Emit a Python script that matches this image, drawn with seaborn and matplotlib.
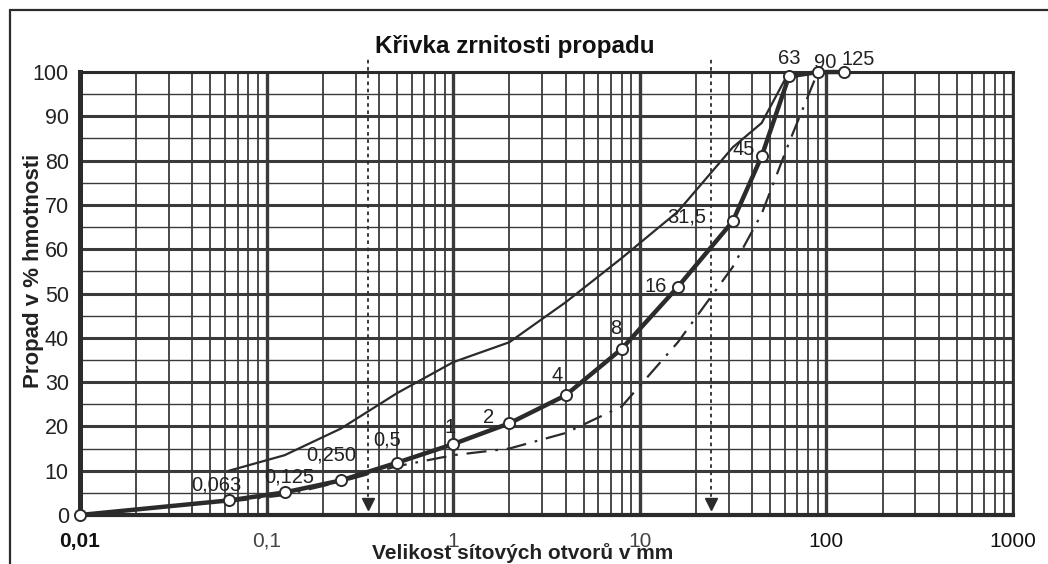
import matplotlib
matplotlib.use("Agg")
import matplotlib.pyplot as plt
import seaborn as sns
import pandas as pd
from matplotlib.ticker import FixedLocator, NullFormatter
from matplotlib.lines import Line2D

# ---- data ----
sieve_mm = [0.01, 0.063, 0.125, 0.25, 0.5, 1, 2, 4, 8, 16, 31.5, 45, 63, 90, 125]
passing = [0, 3.3, 5.1, 7.8, 11.8, 16, 20.7, 27, 37.5, 51.5, 66.3, 81, 99, 100, 100]
point_labels = ["", "0,063", "0,125", "0,250", "0,5", "1", "2", "4", "8", "16",
                "31,5", "45", "63", "90", "125"]
# label offsets in points (dx, dy)
label_dx = [0, -9, 3, -7, -7, -2, -15, -6, -4, -16, -33, -13, 0, 5, 10]
label_dy = [0, 11, 11, 18, 16, 12, 4, 14, 15, 0, 3, 5, 13, 7, 9]

upper_x = [0.063, 0.125, 0.25, 0.5, 1, 2, 4, 8, 16, 31.5, 45, 63]
upper_y = [10, 13.5, 19.5, 27.5, 34.5, 39, 48, 58, 68.5, 83, 88.5, 100]

lower_x = [0.063, 0.125, 0.25, 0.5, 1, 2, 4, 8, 16, 31.5, 45, 63, 90]
lower_y = [3, 4.5, 7.5, 11, 13.5, 15, 18.5, 24.5, 39, 56, 68, 84, 100]

marker_sizes = [0.35, 24]  # vertical dotted arrows (mm)

x_ticks = [0.01, 0.1, 1, 10, 100, 1000]
x_tick_labels = ["0,01", "0,1", "1", "10", "100", "1000"]
y_ticks = list(range(0, 101, 10))

title = "Křivka zrnitosti propadu"
x_label = "Velikost sítových otvorů v mm"
y_label = "Propad v % hmotnosti"

# ---- style ----
sns.set_style("white")
plt.rcParams['font.family'] = ['Liberation Sans', 'DejaVu Sans']
INK = "#2b2b2b"
GRID = "#3a3a3a"

fig = plt.figure(figsize=(10.48, 5.64), dpi=100)
ax = fig.add_axes([0.0763, 0.0869, 0.8903, 0.7854])
ax.set_xscale('log')
ax.set_xlim(0.01, 1000)
ax.set_ylim(0, 100)

# grid
minor_x = [m * 10.0 ** e for e in range(-2, 3) for m in range(2, 10)]
ax.xaxis.set_major_locator(FixedLocator(x_ticks))
ax.xaxis.set_minor_locator(FixedLocator(minor_x))
ax.xaxis.set_minor_formatter(NullFormatter())
ax.yaxis.set_major_locator(FixedLocator(y_ticks))
ax.yaxis.set_minor_locator(FixedLocator(list(range(5, 100, 10))))
ax.set_axisbelow(True)
ax.grid(which='major', axis='x', color=GRID, lw=2.4)
ax.grid(which='minor', axis='x', color=GRID, lw=1.3)
ax.grid(which='major', axis='y', color=GRID, lw=2.2)
ax.grid(which='minor', axis='y', color=GRID, lw=1.0)

ax.set_xticklabels(x_tick_labels)
for i, t in enumerate(ax.get_xticklabels()):
    t.set_color("#111" if i in (0, 4, 5) else "#444")
    if i == 0:
        t.set_fontweight('bold')
ax.tick_params(axis='both', which='both', direction='out', color=INK, width=2)
ax.tick_params(axis='x', which='major', length=4, pad=8, labelsize=15)
ax.tick_params(axis='x', which='minor', length=3)
ax.tick_params(axis='y', which='major', length=5, pad=3, labelsize=15.5, labelcolor="#222")
ax.tick_params(axis='y', which='minor', length=4)

for side, lw in (('left', 3.6), ('bottom', 3.0), ('right', 2.0), ('top', 2.2)):
    ax.spines[side].set_visible(True)
    ax.spines[side].set_color(INK)
    ax.spines[side].set_linewidth(lw)

# curves
sns.lineplot(x=upper_x, y=upper_y, ax=ax, color=INK, lw=1.6, sort=False,
             estimator=None, zorder=3)
sns.lineplot(x=lower_x, y=lower_y, ax=ax, color=INK, lw=1.6, sort=False,
             estimator=None, zorder=3, linestyle=(0, (9, 4, 1.2, 4)))
df = pd.DataFrame({"d": sieve_mm, "p": passing})
sns.lineplot(data=df, x="d", y="p", ax=ax, color=INK, lw=3.2, sort=False,
             estimator=None, zorder=4, marker='o', markersize=8,
             markerfacecolor='white', markeredgecolor=INK, markeredgewidth=1.4)
for line in ax.lines:
    line.set_clip_on(False)

# point labels
for xv, yv, lab, dx, dy in zip(sieve_mm, passing, point_labels, label_dx, label_dy):
    if lab:
        ax.annotate(lab, (xv, yv), xytext=(dx, dy), textcoords='offset points',
                    ha='center', va='center', fontsize=14.5, color="#222", zorder=6)

# vertical dotted arrows
for xv in marker_sizes:
    ax.plot([xv, xv], [2.5, 103], color=INK, lw=1.3, linestyle=(0, (2, 2)),
            clip_on=False, zorder=5)
    ax.plot([xv], [2.4], marker='v', color=INK, markersize=8, clip_on=False, zorder=5)

# texts
fig.text(0.491, 0.917, title, ha='center', va='center', fontsize=17.5,
         fontweight='bold', color="#111")
ax.set_xlabel(x_label, fontsize=15, fontweight='bold', color="#222")
ax.xaxis.set_label_coords(0.474, -0.064)
ax.set_ylabel(y_label, fontsize=16, fontweight='bold', color="#222")
ax.yaxis.set_label_coords(-0.039, 0.55)

# page frame
fig.add_artist(Line2D([10 / 1048, 10 / 1048], [0, 1 - 10 / 564], transform=fig.transFigure,
                      color=INK, lw=1.6))
fig.add_artist(Line2D([10 / 1048, 1], [1 - 10 / 564, 1 - 10 / 564], transform=fig.transFigure,
                      color=INK, lw=1.6))

fig.savefig("out.png", dpi=100)
